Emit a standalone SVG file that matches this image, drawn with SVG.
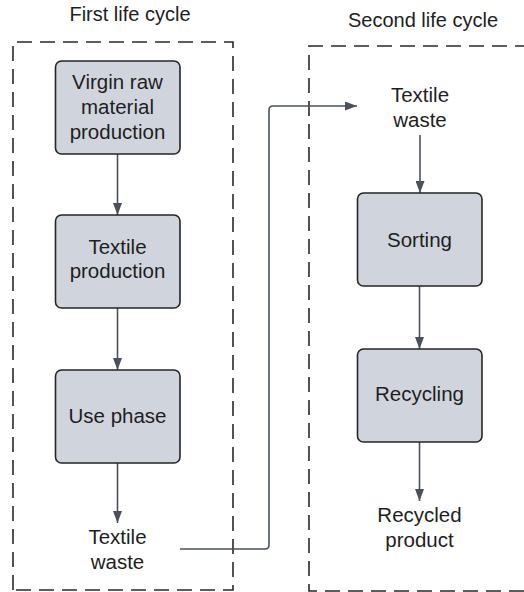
<svg xmlns="http://www.w3.org/2000/svg" width="524" height="592" viewBox="0 0 524 592">
  <style>
    .frame { fill: none; stroke: #2e2626; stroke-width: 1.6; stroke-dasharray: 15 8; }
    .box { fill: #d0d5dd; stroke: #252525; stroke-width: 1.6; }
    .label { font-family: "Liberation Sans", Arial, sans-serif; font-size: 20.5px; fill: #1e1e1e; text-anchor: middle; }
    .title { font-family: "Liberation Sans", Arial, sans-serif; font-size: 20px; fill: #1e1e1e; text-anchor: middle; }
    .link { fill: none; stroke: #4a515d; stroke-width: 1.6; }
  </style>
  <defs>
    <marker id="head" viewBox="0 0 12 10" refX="12" refY="5" markerWidth="12" markerHeight="9" markerUnits="userSpaceOnUse" orient="auto" preserveAspectRatio="none">
      <path d="M0,0 L12,5 L0,10 Z" fill="#4a515d"/>
    </marker>
  </defs>

  <rect width="524" height="592" fill="#ffffff"/>

  <!-- life cycle frames -->
  <g id="first-cycle">
    <text class="title" x="130" y="21">First life cycle</text>
    <path class="frame" d="M13,590 V42 H233 V590 H13"/>
  </g>
  <g id="second-cycle">
    <text class="title" x="423" y="27">Second life cycle</text>
    <path class="frame" d="M530,46 H309 V591 H530"/>
  </g>

  <!-- connectors -->
  <g id="connectors">
    <line class="link" x1="117.5" y1="154" x2="117.5" y2="215" marker-end="url(#head)"/>
    <line class="link" x1="117.5" y1="308" x2="117.5" y2="370" marker-end="url(#head)"/>
    <line class="link" x1="117.5" y1="463" x2="117.5" y2="523" marker-end="url(#head)"/>
    <path class="link" d="M180,549 H265 Q269,549 269,545 V110 Q269,106 273,106 H357" marker-end="url(#head)"/>
    <line class="link" x1="420" y1="135" x2="420" y2="193" marker-end="url(#head)"/>
    <line class="link" x1="419.5" y1="286" x2="419.5" y2="349" marker-end="url(#head)"/>
    <line class="link" x1="419.5" y1="442" x2="419.5" y2="501" marker-end="url(#head)"/>
  </g>

  <!-- first life cycle nodes -->
  <g id="virgin-raw-material">
    <rect class="box" x="55.5" y="61" width="124.5" height="93" rx="6"/>
    <text class="label" x="117.5" y="89">Virgin raw</text>
    <text class="label" x="117.5" y="114">material</text>
    <text class="label" x="117.5" y="139">production</text>
  </g>
  <g id="textile-production">
    <rect class="box" x="55.5" y="215" width="124.5" height="93" rx="6"/>
    <text class="label" x="117.5" y="254">Textile</text>
    <text class="label" x="117.5" y="278">production</text>
  </g>
  <g id="use-phase">
    <rect class="box" x="55.5" y="370" width="124.5" height="93" rx="6"/>
    <text class="label" x="117.5" y="423">Use phase</text>
  </g>
  <g id="textile-waste-1">
    <text class="label" x="117.5" y="544">Textile</text>
    <text class="label" x="117.5" y="569">waste</text>
  </g>

  <!-- second life cycle nodes -->
  <g id="textile-waste-2">
    <text class="label" x="420" y="102">Textile</text>
    <text class="label" x="420" y="127">waste</text>
  </g>
  <g id="sorting">
    <rect class="box" x="357.5" y="193" width="124.5" height="93" rx="6"/>
    <text class="label" x="419.5" y="247">Sorting</text>
  </g>
  <g id="recycling">
    <rect class="box" x="357.5" y="349" width="124.5" height="93" rx="6"/>
    <text class="label" x="419.5" y="401">Recycling</text>
  </g>
  <g id="recycled-product">
    <text class="label" x="419.5" y="522">Recycled</text>
    <text class="label" x="419.5" y="547">product</text>
  </g>
</svg>
